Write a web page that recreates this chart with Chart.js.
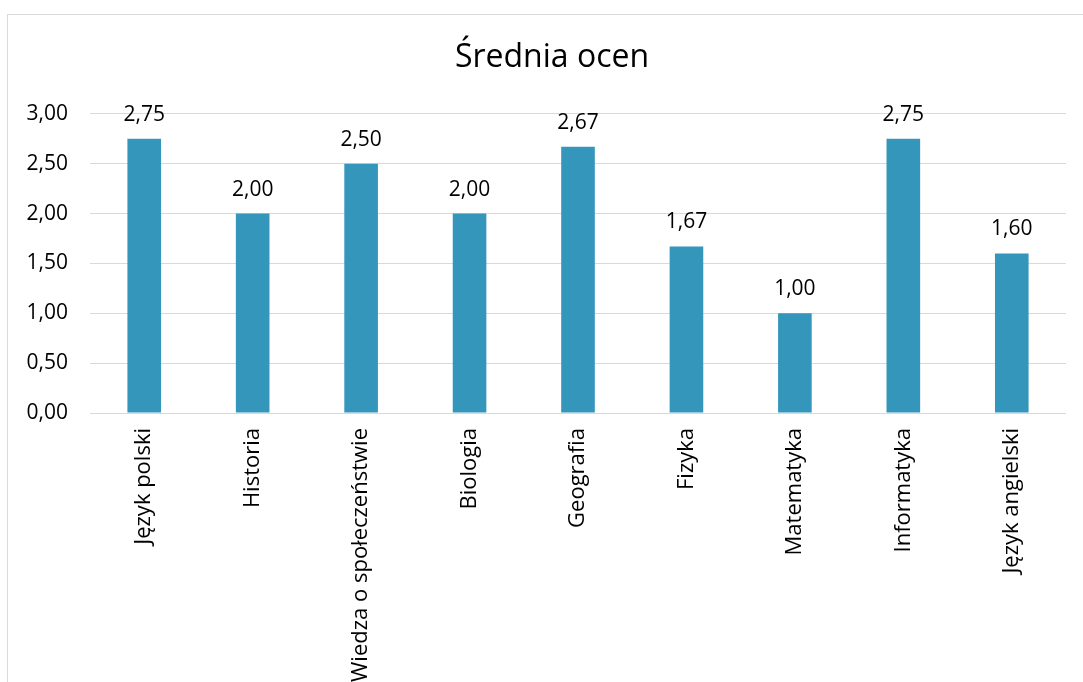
<!DOCTYPE html>
<html>
<head>
<meta charset="utf-8">
<script src="https://cdn.jsdelivr.net/npm/chart.js@4/dist/chart.umd.min.js"></script>
<style>
  body { margin: 0; background: #fff; overflow: hidden; }
  #box { position: absolute; left: 7px; top: 14px; width: 1095px; height: 680px; border: 1px solid #d9d9d9; }
  #wrap { position: absolute; left: 0; top: 0; width: 1088px; height: 667px; }
</style>
</head>
<body>
<div id="box"><div id="wrap"><canvas id="plots"></canvas></div></div>
<script>
// przedmioty i srednie
var subjects = ["Język polski", "Historia", "Wiedza o społeczeństwie", "Biologia", "Geografia", "Fizyka", "Matematyka", "Informatyka", "Język angielski"];
var averages = [2.75, 2.00, 2.50, 2.00, 2.67, 1.67, 1.00, 2.75, 1.60];
var yTicks = [0, 0.5, 1, 1.5, 2, 2.5, 3];

var FONT = "'Open Sans', sans-serif";
function fmt(v) { return v.toFixed(2).replace('.', ','); }

// etykiety nad slupkami
var valueLabels = {
  id: 'valueLabels',
  afterDatasetsDraw: function(chart) {
    var ctx = chart.ctx;
    var meta = chart.getDatasetMeta(0);
    ctx.save();
    ctx.font = "21px " + FONT;
    ctx.fillStyle = '#000';
    ctx.textAlign = 'center';
    ctx.textBaseline = 'middle';
    meta.data.forEach(function(bar, i) {
      ctx.fillText(fmt(averages[i]), bar.x, bar.y - 24);
    });
    ctx.restore();
  }
};

new Chart(document.getElementById("plots"), {
  type: 'bar',
  data: {
    labels: subjects,
    datasets: [{
      data: averages,
      backgroundColor: '#3596bc',
      barPercentage: 0.31,
      categoryPercentage: 1
    }]
  },
  options: {
    responsive: true,
    maintainAspectRatio: false,
    animation: false,
    plugins: {
      legend: { display: false },
      tooltip: { enabled: false },
      title: {
        display: true,
        text: 'Średnia ocen',
        color: '#000',
        font: { family: FONT, size: 32, weight: 'normal' },
        padding: { top: 24, bottom: 36.5 }
      }
    },
    scales: {
      x: {
        grid: { display: false, drawTicks: false },
        border: { display: false },
        ticks: {
          color: '#000', font: { family: FONT, size: 22 },
          minRotation: 90, maxRotation: 90, padding: 15, autoSkip: false
        },
        afterFit: function(s) { s.height = 269; }
      },
      y: {
        min: 0, max: 3,
        afterBuildTicks: function(s) { s.ticks = yTicks.map(function(v) { return { value: v }; }); },
        grid: { color: '#d9d9d9', drawTicks: false },
        border: { display: false },
        ticks: {
          color: '#000', font: { family: FONT, size: 21 }, padding: 22,
          callback: function(v) { return fmt(v); }
        },
        afterFit: function(s) { s.width = 82; }
      },
      // pusty margines z prawej
      yR: {
        position: 'right',
        grid: { display: false },
        border: { display: false },
        ticks: { display: false },
        afterFit: function(s) { s.width = 30; }
      }
    }
  },
  plugins: [valueLabels]
});
</script>
</body>
</html>
